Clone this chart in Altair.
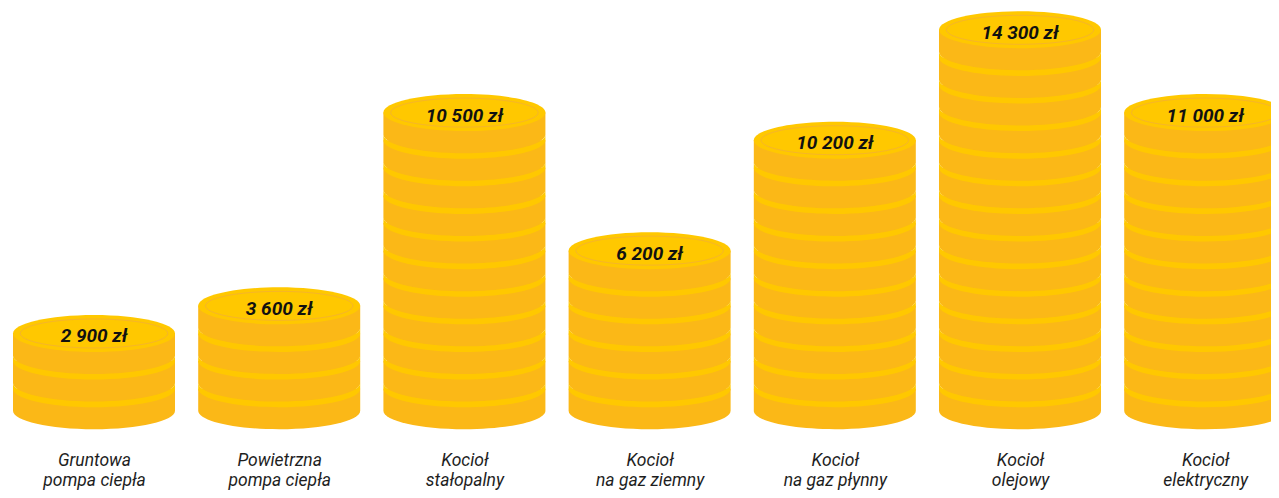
import altair as alt
import pandas as pd

# ---- data ----
categories = [
    "Gruntowa|pompa ciepła",
    "Powietrzna|pompa ciepła",
    "Kocioł|stałopalny",
    "Kocioł|na gaz ziemny",
    "Kocioł|na gaz płynny",
    "Kocioł|olejowy",
    "Kocioł|elektryczny",
]
values = [2900, 3600, 10500, 6200, 10200, 14300, 11000]
coin_value = 1000  # one coin per 1000 zł (rounded)

# ---- tables built from the arrays ----
coins = []
labels = []
for i, v in enumerate(values):
    n = int(v / coin_value + 0.5)
    for k in range(n):
        coins.append({"i": i, "k": k, "top": k == n - 1})
    labels.append({"i": i, "k": n - 1,
                   "txt": f"{v:,}".replace(",", " ") + " zł"})
coins_df = pd.DataFrame(coins)
labels_df = pd.DataFrame(labels)

# ---- coin geometry (shape paths in symbol units, radius = 1) ----
R = 81.0
e = 18.5 / R   # ellipse vertical semi-axis
h = 22.0 / R   # side height
s = 5.6 / R    # visible rim stripe
a, b = 0.91, 14.5 / R
SIZE = (2 * R) ** 2

side_path = f"M -1 0 L -1 {h:.4f} A 1 {e:.4f} 0 0 0 1 {h:.4f} L 1 0 Z"
stripe_path = (f"M -1 {-s:.4f} A 1 {e:.4f} 0 0 0 1 {-s:.4f} L 1 0 "
               f"A 1 {e:.4f} 0 0 1 -1 0 Z")
face_path = f"M -1 0 A 1 {e:.4f} 0 0 1 1 0 A 1 {e:.4f} 0 0 1 -1 0 Z"
ring_path = (f"M -{a} 0 A {a} {b:.4f} 0 0 1 {a} 0 "
             f"A {a} {b:.4f} 0 0 1 -{a} 0 Z")

SIDE = "#FBB817"
FACE = "#FFC800"
RING = "#F6B52A"

label_expr = ("split([" + ",".join("'" + c + "'" for c in categories)
              + "][datum.value], '|')")

W = 1263
x_enc = alt.X("i:Q",
              scale=alt.Scale(domain=[-0.4644, -0.4644 + W / 185.2],
                              nice=False, zero=False),
              axis=alt.Axis(values=list(range(len(categories))),
                            labelExpr=label_expr, title=None, grid=False,
                            domain=False, ticks=False, labelFont="Roboto",
                            labelFontStyle="italic", labelFontSize=17.5,
                            labelColor="#1e1e1e", labelLineHeight=20,
                            labelPadding=11, labelOverlap=False,
                            labelFlush=False, labelBound=False))
y_enc = alt.Y("k:Q", scale=alt.Scale(domain=[-1.86, 13.79], nice=False,
                                     zero=False), axis=None)

base = alt.Chart(coins_df)

sides = base.mark_point(shape=side_path, filled=True, opacity=1, clip=True,
                        strokeWidth=0, color=SIDE).encode(
    x=x_enc, y=y_enc, size=alt.value(SIZE))

stripes = base.mark_point(shape=stripe_path, filled=True, opacity=1, clip=True,
                          strokeWidth=0, color=FACE).encode(
    x="i:Q", y="k:Q", size=alt.value(SIZE)).transform_filter("!datum.top")

faces = base.mark_point(shape=face_path, filled=True, opacity=1, clip=True,
                        strokeWidth=0, color=FACE).encode(
    x="i:Q", y="k:Q", size=alt.value(SIZE)).transform_filter("datum.top")

rings = base.mark_point(shape=ring_path, filled=False, opacity=1, clip=True,
                        strokeWidth=1, color=RING).encode(
    x="i:Q", y="k:Q", size=alt.value(SIZE)).transform_filter("datum.top")

texts = alt.Chart(labels_df).mark_text(
    font="Roboto", fontStyle="italic", fontWeight="bold", fontSize=19,
    color="#111111", baseline="middle", dy=3).encode(
    x="i:Q", y="k:Q", text="txt:N")

chart = alt.layer(sides, stripes, faces, rings, texts).properties(
    width=W, height=432,
    autosize=alt.AutoSizeParams(type="none"),
    padding={"left": 0, "top": 0, "right": 0, "bottom": 50},
).configure_view(stroke=None)

chart.save("out.html", embed_options={"renderer": "svg", "actions": False})
